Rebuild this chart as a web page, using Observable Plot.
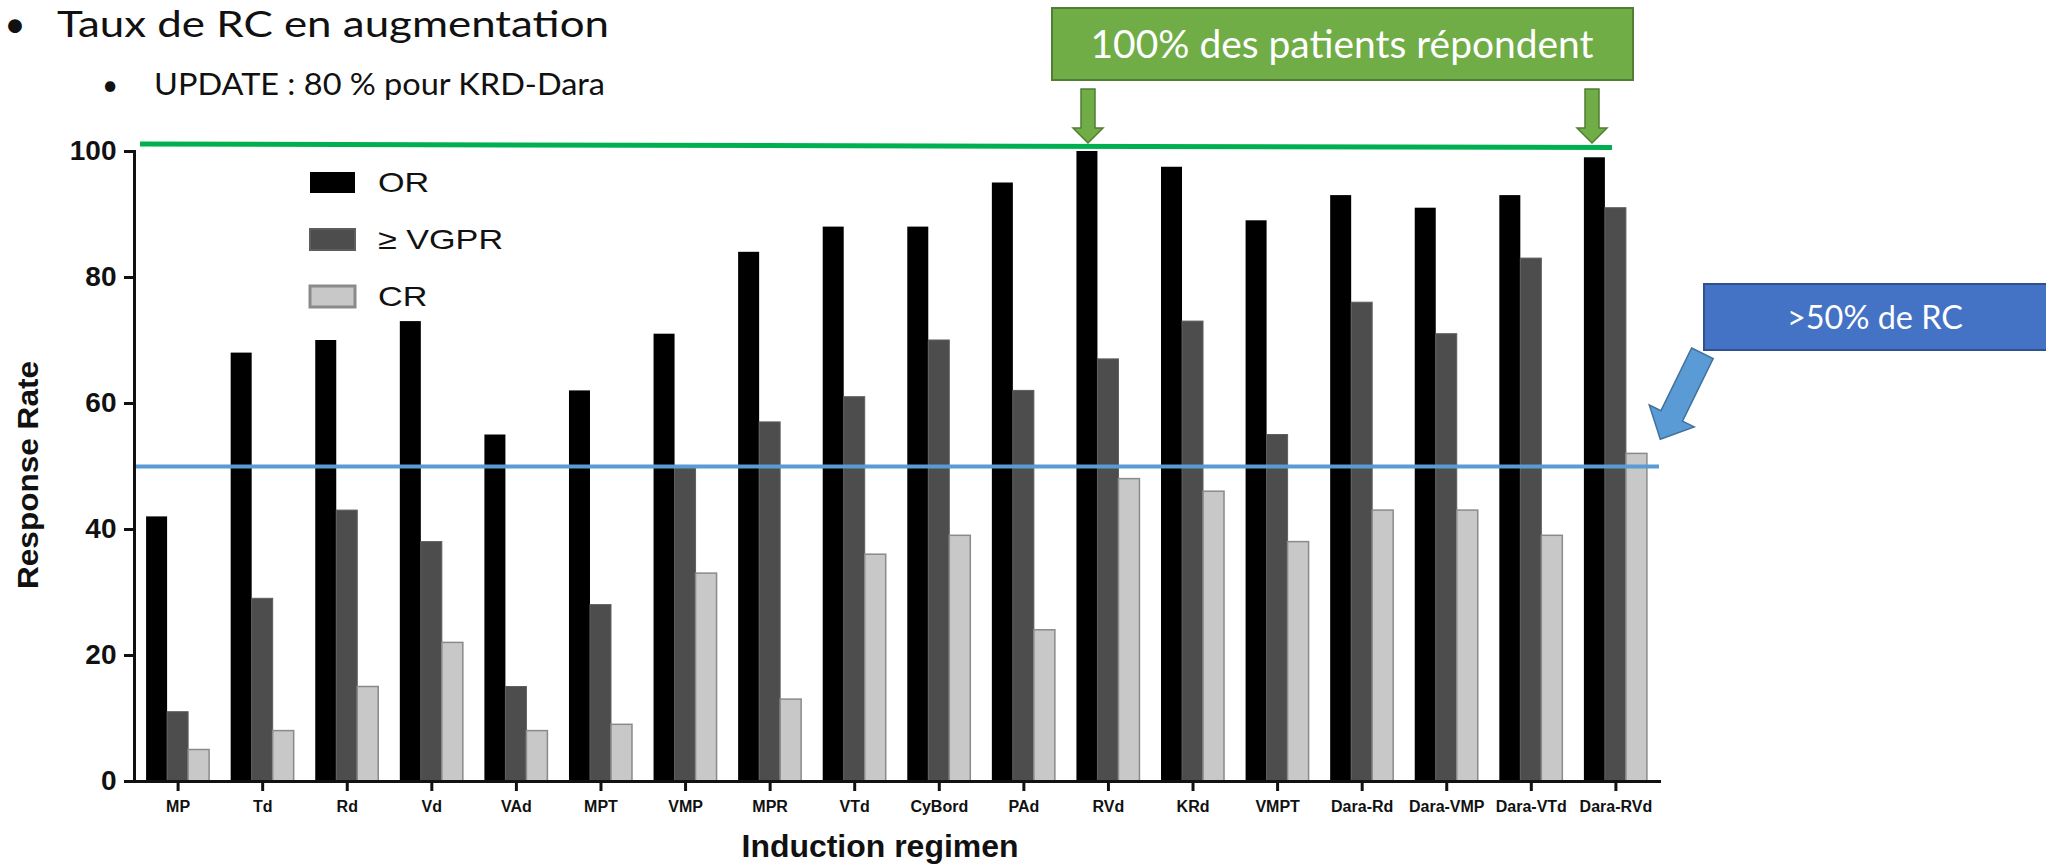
<!DOCTYPE html>
<html><head><meta charset="utf-8">
<script src="https://cdn.jsdelivr.net/npm/d3@7"></script>
<script src="https://cdn.jsdelivr.net/npm/@observablehq/plot@0.6"></script>
<style>
html,body{margin:0;padding:0;background:#fff;}
#wrap{position:relative;width:2046px;height:865px;overflow:hidden;background:#fff;}
#wrap > svg{position:absolute;left:0;top:0;}
#legend{position:absolute;left:310px;top:154px;}
#legend *{font-family:'Liberation Sans',Arial,sans-serif !important;}
#legend .lg-swatch{height:57px !important;display:flex !important;align-items:center !important;margin:0 !important;padding:0 !important;font-size:28px !important;color:#111 !important;}
#legend .lg-swatch svg{margin-right:23px !important;flex:none;}
#legend .lg-swatch div{transform:scaleX(1.22);transform-origin:0 50%;overflow:visible !important;white-space:nowrap;}
#legend > div{margin:0 !important;padding:0 !important;font-size:28px !important;}
</style></head><body><div id="wrap"><div id="legend"></div></div>
<script>
// ---- data ----
const categories = ["MP","Td","Rd","Vd","VAd","MPT","VMP","MPR","VTd","CyBord","PAd","RVd","KRd","VMPT","Dara-Rd","Dara-VMP","Dara-VTd","Dara-RVd"];
const orValues   = [42, 68, 70, 73, 55, 62, 71, 84, 88, 88, 95, 100, 97.5, 89, 93, 91, 93, 99];
const vgprValues = [11, 29, 43, 38, 15, 28, 50, 57, 61, 70, 62, 67, 73, 55, 76, 71, 83, 91];
const crValues   = [5, 8, 15, 22, 8, 9, 33, 13, 36, 39, 24, 48, 46, 38, 43, 43, 39, 52];
const seriesNames = ["OR", "≥ VGPR", "CR"];
const seriesColors = ["#000000", "#4d4d4d", "#c8c8c8"];
const yTicks = [0, 20, 40, 60, 80, 100];
const thresholdRC = 50;

const data = categories.flatMap((c, i) => [
  {regimen: c, series: seriesNames[0], value: orValues[i]},
  {regimen: c, series: seriesNames[1], value: vgprValues[i]},
  {regimen: c, series: seriesNames[2], value: crValues[i]}
]);

// ---- layout ----
const W = 2046, H = 865, mL = 134, mR = 387, mT = 151, mB = 84;
const padIn = 0.255, padOut = 0.143;
const step = (W - mL - mR) / (categories.length - padIn + 2 * padOut);
const bw = step * (1 - padIn);
const barW = bw / 3;
const FONT = "'Liberation Sans', Arial, Helvetica, sans-serif";
const CAL = "Lato, 'Open Sans', sans-serif";

const bars = (name, iL, iR, extra) => Plot.barY(data, {
  filter: d => d.series === name, x: "regimen", y: "value", fill: "series",
  insetLeft: iL, insetRight: iR, ...extra
});

const chart = Plot.plot({
  width: W, height: H, marginLeft: mL, marginRight: mR, marginTop: mT, marginBottom: mB,
  style: {fontFamily: FONT, background: "transparent", overflow: "visible", color: "#111"},
  x: {type: "band", domain: categories, paddingInner: padIn, paddingOuter: padOut, align: 0.5, round: false},
  y: {domain: [0, 100]},
  color: {domain: seriesNames, range: seriesColors},
  marks: [
    bars(seriesNames[0], 0, 2 * barW, {}),
    bars(seriesNames[1], barW, barW, {stroke: "#5e5e5e", strokeWidth: 1}),
    bars(seriesNames[2], 2 * barW, 0, {stroke: "#8a8a8a", strokeWidth: 1.5}),
    Plot.ruleY([thresholdRC], {stroke: "#5B9BD5", strokeWidth: 4}),
    Plot.frame({anchor: "left", stroke: "#111", strokeWidth: 3}),
    Plot.frame({anchor: "bottom", stroke: "#111", strokeWidth: 3}),
    Plot.axisY({ticks: yTicks, tickSize: 10, tickPadding: 8, strokeWidth: 3, fontSize: 28, fontWeight: "bold", label: null}),
    Plot.axisX({tickSize: 10, tickPadding: 9, strokeWidth: 3, fontSize: 16, fontWeight: "bold", label: null})
  ]
});

const wrap = document.getElementById("wrap");
wrap.insertBefore(chart, wrap.firstChild);

const svg = d3.select(chart);
svg.selectAll('g[aria-label="y-axis tick label"]').attr("font-size", 28).attr("font-weight", "bold").attr("fill", "#111");
svg.selectAll('g[aria-label="x-axis tick label"]').attr("font-size", 16).attr("font-weight", "bold").attr("fill", "#111");

// ---- annotations ----
const g = svg.append("g").attr("class", "annotations");
const yS = chart.scale("y");

function txt(s, x, y, opt) {
  const t = g.append("text").attr("x", x).attr("y", y).text(s)
    .attr("font-family", opt.family || CAL).attr("font-size", opt.size)
    .attr("fill", opt.fill || "#111").attr("text-anchor", opt.anchor || "start");
  if (opt.weight) t.attr("font-weight", opt.weight);
  if (opt.len) t.attr("textLength", opt.len).attr("lengthAdjust", "spacingAndGlyphs");
  if (opt.transform) t.attr("transform", opt.transform).attr("x", 0).attr("y", 0);
  return t;
}

// header bullets
txt("•", 15, 37, {size: 37, anchor: "middle"});
txt("Taux de RC en augmentation", 57, 37, {size: 37, len: 552});
txt("•", 110, 95, {size: 28, anchor: "middle"});
txt("UPDATE : 80 % pour KRD-Dara", 154, 95, {size: 31, len: 451});

// axis titles
txt("Response Rate", 0, 0, {family: FONT, size: 30, weight: "bold", anchor: "middle", len: 228, transform: "translate(38,475) rotate(-90)"});
txt("Induction regimen", 880, 857, {family: FONT, size: 31, weight: "bold", anchor: "middle", len: 277});

// green 100% line
g.append("line").attr("x1", 140).attr("x2", 1612)
  .attr("y1", yS.apply(101.1)).attr("y2", yS.apply(100.55))
  .attr("stroke", "#00B050").attr("stroke-width", 5);

// green callout
g.append("rect").attr("x", 1052).attr("y", 8).attr("width", 581).attr("height", 72)
  .attr("fill", "#70AD47").attr("stroke", "#507E32").attr("stroke-width", 2);
txt("100% des patients répondent", 1342, 58, {size: 38, fill: "#fff", anchor: "middle", len: 503});
function downArrow(cx) {
  const pts = [[cx-7,89],[cx+7,89],[cx+7,128],[cx+15,128],[cx,143],[cx-15,128],[cx-7,128]];
  g.append("polygon").attr("points", pts.map(p => p.join(",")).join(" "))
    .attr("fill", "#70AD47").attr("stroke", "#507E32").attr("stroke-width", 1.5);
}
downArrow(1088);
downArrow(1592);

// blue callout
g.append("rect").attr("x", 1704).attr("y", 284).attr("width", 350).attr("height", 66)
  .attr("fill", "#4472C4").attr("stroke", "#2F528F").attr("stroke-width", 2);
txt(">50% de RC", 1875, 329, {size: 33, fill: "#fff", anchor: "middle", len: 176});
(function () {
  const T = [1702.4, 353.3], P = [1660.3, 439.3];
  const dx = P[0]-T[0], dy = P[1]-T[1], L = Math.hypot(dx, dy);
  const u = [dx/L, dy/L], n = [u[1], -u[0]];
  const Hh = [P[0]-26*u[0], P[1]-26*u[1]];
  const at = (b, k) => [b[0]+k*n[0], b[1]+k*n[1]];
  const pts = [at(T,-12), at(T,12), at(Hh,12), at(Hh,25), P, at(Hh,-25), at(Hh,-12)];
  g.append("polygon").attr("points", pts.map(p => p.join(",")).join(" "))
    .attr("fill", "#5B9BD5").attr("stroke", "#41719C").attr("stroke-width", 1.5);
})();

// ---- legend ----
const leg = chart.legend("color", {legend: "swatches", columns: 1, swatchWidth: 45, swatchHeight: 21, className: "lg", width: 260});
document.getElementById("legend").appendChild(leg);
d3.select(leg).selectAll("svg").each(function (d, i) {
  const s = d3.select(this);
  s.selectAll("rect").attr("stroke", i === 2 ? "#8a8a8a" : (i === 1 ? "#5e5e5e" : "none")).attr("stroke-width", i === 2 ? 3 : 2);
});
</script></body></html>
